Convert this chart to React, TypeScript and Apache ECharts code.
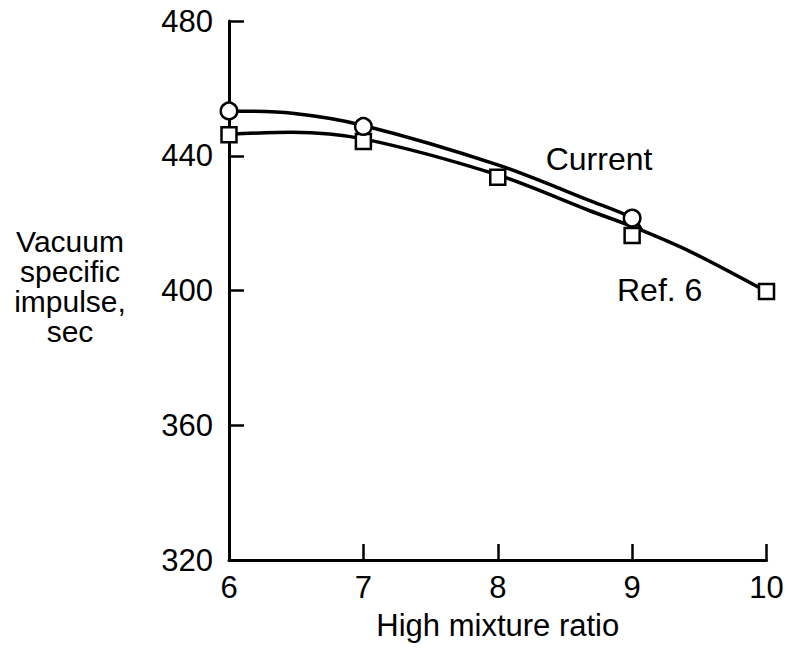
import React, { useEffect, useRef } from "react";
import * as echarts from "echarts";

// Values
const mixtureTicks = [6, 7, 8, 9, 10];
const yTicks = [320, 360, 400, 440, 480];

// Plotted points (markers)
const currentPtX = [6, 7, 9];
const currentPtY = [453.3, 448.7, 421.5];
const ref6PtX = [6, 7, 8, 9, 10];
const ref6PtY = [446.2, 444.2, 433.6, 416.3, 399.7];

// Faired curves as drawn in the picture (Current merges into Ref. 6 just past 9)
const currentCurveX = [6, 6.47, 7, 8, 8.69, 9, 9.07];
const currentCurveY = [453.3, 452.6, 449.0, 437.3, 426.6, 421.5, 418.0];
const ref6CurveX = [6, 6.47, 7, 8, 8.69, 9, 9.44, 10];
const ref6CurveY = [446.4, 447.0, 445.0, 434.3, 423.6, 419.0, 411.4, 399.7];

const FONT = "'Liberation Sans', Arial, Helvetica, sans-serif";

export default function App() {
  const ref = useRef<HTMLDivElement | null>(null);

  useEffect(() => {
    if (!ref.current) return;
    const chart = echarts.init(ref.current, null, { renderer: "svg" });

    const zip = (xs: number[], ys: number[]) => xs.map((x, i) => [x, ys[i]]);

    chart.setOption({
      animation: false,
      backgroundColor: "#ffffff",
      grid: { left: 229, right: 21.5, top: 21, bottom: 90, containLabel: false },
      xAxis: {
        type: "value",
        min: mixtureTicks[0],
        max: mixtureTicks[mixtureTicks.length - 1],
        interval: 1,
        name: "High mixture ratio",
        nameLocation: "middle",
        nameGap: 50,
        nameTextStyle: { fontSize: 31, fontFamily: FONT, color: "#000" },
        axisLine: { show: true, lineStyle: { color: "#000", width: 3 } },
        axisTick: { show: true, inside: true, length: 16, lineStyle: { color: "#000", width: 2.5 } },
        axisLabel: { fontSize: 31, fontFamily: FONT, color: "#000", margin: 12 },
        splitLine: { show: false },
      },
      yAxis: {
        type: "value",
        min: yTicks[0],
        max: yTicks[yTicks.length - 1],
        interval: 40,
        axisLine: { show: true, lineStyle: { color: "#000", width: 3 } },
        axisTick: { show: true, inside: true, length: 15, lineStyle: { color: "#000", width: 2.5 } },
        axisLabel: { fontSize: 31, fontFamily: FONT, color: "#000", margin: 16 },
        splitLine: { show: false },
      },
      graphic: [
        {
          type: "text",
          x: 70,
          y: 286,
          style: {
            text: "Vacuum\nspecific\nimpulse,\nsec",
            fontSize: 30,
            fontFamily: FONT,
            fill: "#000",
            align: "center",
            verticalAlign: "middle",
            lineHeight: 30,
          },
        },
        {
          type: "text",
          x: 599,
          y: 159,
          style: {
            text: "Current",
            fontSize: 32,
            fontFamily: FONT,
            fill: "#000",
            align: "center",
            verticalAlign: "middle",
          },
        },
        {
          type: "text",
          x: 617,
          y: 290,
          style: {
            text: "Ref. 6",
            fontSize: 32,
            fontFamily: FONT,
            fill: "#000",
            align: "left",
            verticalAlign: "middle",
          },
        },
      ],
      series: [
        {
          name: "Ref. 6 curve",
          type: "line",
          data: zip(ref6CurveX, ref6CurveY),
          smooth: 0.3,
          showSymbol: false,
          symbol: "none",
          lineStyle: { color: "#000", width: 3.5 },
          z: 2,
        },
        {
          name: "Current curve",
          type: "line",
          data: zip(currentCurveX, currentCurveY),
          smooth: 0.3,
          showSymbol: false,
          symbol: "none",
          lineStyle: { color: "#000", width: 3.5 },
          z: 2,
        },
        {
          name: "Ref. 6",
          type: "scatter",
          data: zip(ref6PtX, ref6PtY),
          symbol: "rect",
          symbolSize: 15,
          itemStyle: { color: "#fff", borderColor: "#000", borderWidth: 2.5, opacity: 1 },
          z: 3,
        },
        {
          name: "Current",
          type: "scatter",
          data: zip(currentPtX, currentPtY),
          symbol: "circle",
          symbolSize: 16.5,
          itemStyle: { color: "#fff", borderColor: "#000", borderWidth: 2.5, opacity: 1 },
          z: 4,
        },
      ],
    });

    return () => chart.dispose();
  }, []);

  return (
    <div
      ref={ref}
      style={{ position: "fixed", left: 0, top: 0, width: 788, height: 650, background: "#fff" }}
    />
  );
}
